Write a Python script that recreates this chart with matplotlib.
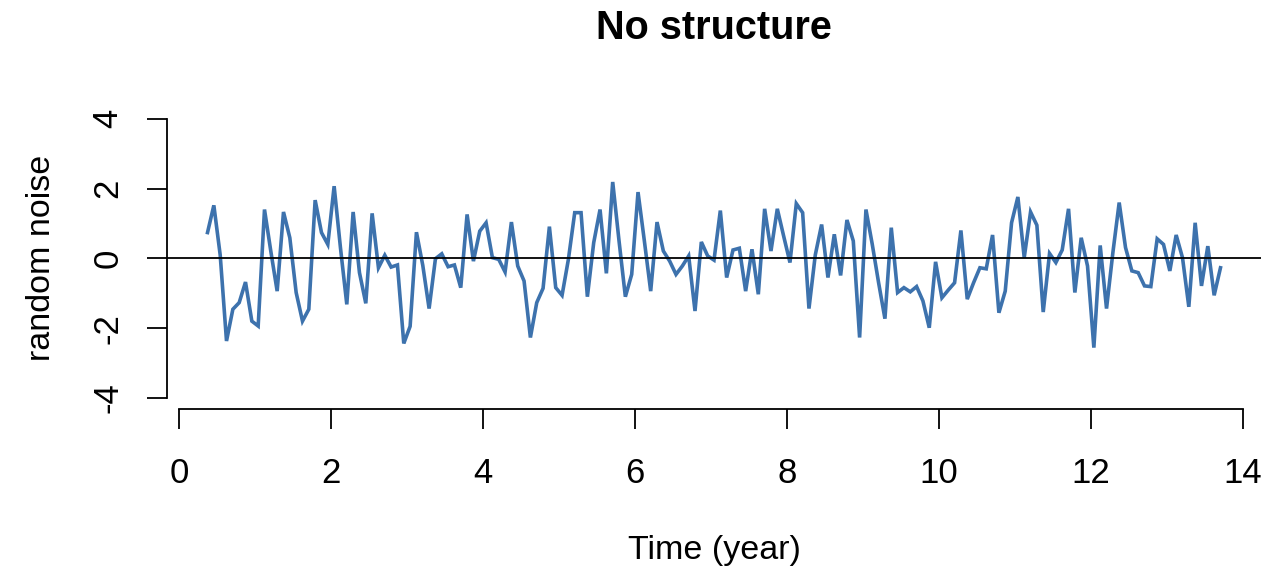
import matplotlib.pyplot as plt
import numpy as np

# monthly noise values, starting at about 0.375 years
noise = [0.74, 1.52, 0.10, -2.37, -1.46, -1.27, -0.68, -1.80, -1.94, 1.40,
         0.20, -0.94, 1.33, 0.59, -0.98, -1.80, -1.46, 1.67, 0.74, 0.40,
         2.07, 0.30, -1.32, 1.33, -0.41, -1.29, 1.29, -0.27, 0.09, -0.25,
         -0.19, -2.44, -1.95, 0.75, -0.20, -1.44, -0.01, 0.13, -0.24, -0.19,
         -0.84, 1.26, -0.08, 0.78, 1.02, 0.02, -0.03, -0.39, 1.04, -0.22,
         -0.65, -2.27, -1.27, -0.86, 0.91, -0.84, -1.06, -0.03, 1.31, 1.31,
         -1.10, 0.45, 1.40, -0.43, 2.19, 0.50, -1.10, -0.46, 1.90, 0.50,
         -0.94, 1.04, 0.21, -0.08, -0.46, -0.22, 0.07, -1.51, 0.47, 0.07,
         -0.05, 1.37, -0.55, 0.24, 0.29, -0.94, 0.26, -1.03, 1.42, 0.21,
         1.42, 0.64, -0.12, 1.57, 1.31, -1.44, 0.10, 0.97, -0.55, 0.69,
         -0.49, 1.10, 0.50, -2.27, 1.40, 0.40, -0.70, -1.73, 0.88, -0.98,
         -0.84, -0.96, -0.81, -1.22, -1.99, -0.10, -1.13, -0.91, -0.70, 0.80,
         -1.17, -0.70, -0.27, -0.30, 0.67, -1.56, -0.94, 1.02, 1.76, 0.02,
         1.33, 0.95, -1.54, 0.14, -0.12, 0.24, 1.42, -0.98, 0.59, -0.22,
         -2.56, 0.37, -1.44, 0.16, 1.60, 0.31, -0.36, -0.41, -0.79, -0.81,
         0.56, 0.40, -0.36, 0.67, 0.02, -1.39, 1.02, -0.79, 0.35, -1.06,
         -0.27]
start_year = 0.375
time = start_year + np.arange(len(noise)) / 12

x_ticks = [0, 2, 4, 6, 8, 10, 12, 14]
y_ticks = [-4, -2, 0, 2, 4]

W, H = 1263, 572
fig = plt.figure(figsize=(W / 100, H / 100), dpi=100)
plt.rcParams['font.family'] = ['Liberation Sans', 'DejaVu Sans']

ax = fig.add_axes([167 / W, 1 - 409 / H, (1261 - 167) / W, (409 - 107.7) / H])
ax.plot(time, noise, color='#3d72ad', linewidth=2.6, solid_joinstyle='miter')
ax.axhline(0, color='black', linewidth=1.3)

rng = time[-1] - time[0]
ax.set_xlim(time[0] - 0.04 * rng, time[-1] + 0.04 * rng)
ax.set_ylim(-4.32, 4.32)

for s in ['top', 'right']:
    ax.spines[s].set_visible(False)
ax.spines['left'].set_bounds(-4, 4)
ax.spines['bottom'].set_bounds(0, 14)
for s in ['left', 'bottom']:
    ax.spines[s].set_linewidth(1.3)

ax.set_xticks(x_ticks)
ax.set_yticks(y_ticks)
ax.set_yticklabels([str(v) for v in y_ticks], rotation=90, va='center')
ax.tick_params(axis='both', length=14.5, width=1.3, labelsize=25)
ax.tick_params(axis='x', pad=20)
ax.tick_params(axis='y', pad=16)

fig.text(714 / W, 1 - 551 / H, 'Time (year)', ha='center', va='center',
         fontsize=24.5)
fig.text(42 / W, 1 - 258 / H, 'random noise', ha='center', va='center',
         fontsize=24.5, rotation=90)
fig.text(714 / W, 1 - 28 / H, 'No structure', ha='center', va='center',
         fontsize=28.5, fontweight='bold')

fig.savefig('out.png', dpi=100, facecolor='white')
